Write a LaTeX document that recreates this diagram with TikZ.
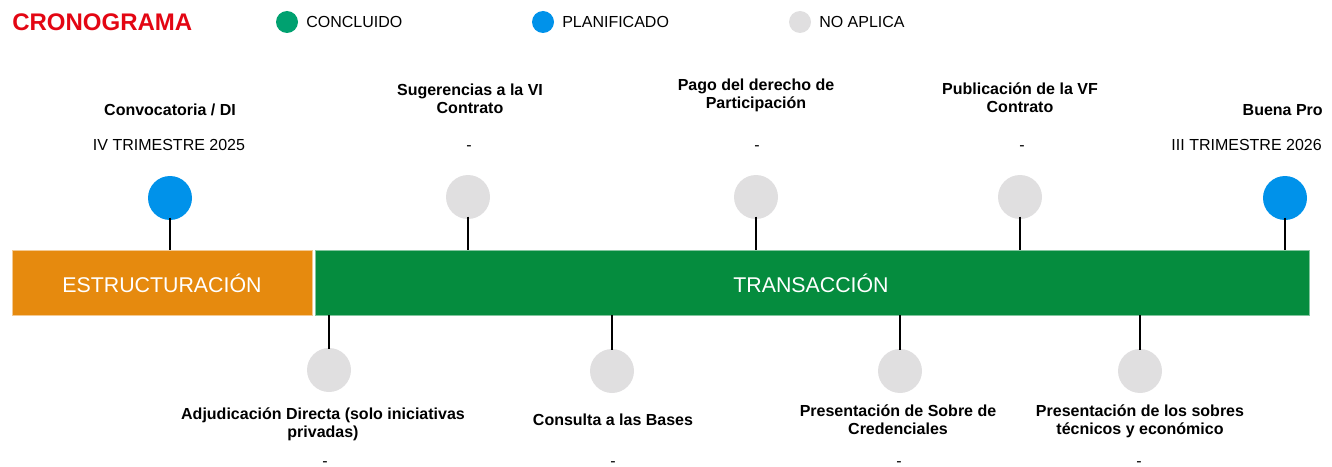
\documentclass[tikz,border=0pt]{standalone}
\usepackage{fontspec}
\setmainfont{Liberation Sans}
\definecolor{cblue}{RGB}{0,146,234}
\definecolor{cgray}{RGB}{224,223,224}
\definecolor{cgreenleg}{RGB}{0,161,112}
\definecolor{cbar}{RGB}{5,140,62}
\definecolor{corange}{RGB}{230,138,14}
\definecolor{cred}{RGB}{227,6,19}
\tikzset{
  dot/.style={circle,inner sep=0pt,minimum size=33pt},
  legdot/.style={circle,inner sep=0pt,minimum size=16.5pt},
  lbl/.style={font=\fontsize{12}{13.5}\selectfont\bfseries,align=center,inner sep=0pt},
  dat/.style={font=\fontsize{12}{13.5}\selectfont,inner sep=0pt},
  botdash/.style={dat,anchor=base},
  legtxt/.style={font=\fontsize{12}{13.5}\selectfont,anchor=west,inner sep=0pt},
  bartxt/.style={font=\fontsize{16}{18}\selectfont,text=white},
  stem/.style={line width=1.6pt,black}
}
\begin{document}
\begin{tikzpicture}[x=0.75pt,y=-0.75pt]
\useasboundingbox (0,0) rectangle (1332,467);
% title and legend
\node[font=\fontsize{18}{20}\selectfont\bfseries,text=cred,anchor=west,inner sep=0pt] (title) at (12,22) {CRONOGRAMA};
\node[legdot,fill=cgreenleg] (lg1) at (287,22) {};
\node[legtxt] (lt1) at (306,22) {CONCLUIDO};
\node[legdot,fill=cblue] (lg2) at (543,22) {};
\node[legtxt] (lt2) at (562,22) {PLANIFICADO};
\node[legdot,fill=cgray] (lg3) at (800,22) {};
\node[legtxt] (lt3) at (819,22) {NO APLICA};
% bars
\path[fill=corange,draw=corange!45,line width=0.6pt] (12,250) rectangle (312,315);
\node[bartxt] (est) at (162,283) {ESTRUCTURACIÓN};
\path[fill=cbar,draw=cbar!50,line width=0.6pt] (315,250) rectangle (1309,315);
\node[bartxt] (tra) at (811,283) {TRANSACCIÓN};
\coordinate (bartop) at (0,250);
\coordinate (barbot) at (0,315);
% top circles
\node[dot,fill=cblue] (t1) at (170,198) {};
\node[dot,fill=cgray] (t2) at (468,197) {};
\node[dot,fill=cgray] (t3) at (756,197) {};
\node[dot,fill=cgray] (t4) at (1020,197) {};
\node[dot,fill=cblue] (t5) at (1285,198) {};
\foreach \n in {t1,t2,t3,t4,t5}{
  \draw[stem] ([yshift=2pt]\n.south) -- (\n |- bartop);
}
% bottom circles
\node[dot,fill=cgray] (b1) at (329,370) {};
\node[dot,fill=cgray] (b2) at (612,371) {};
\node[dot,fill=cgray] (b3) at (900,371) {};
\node[dot,fill=cgray] (b4) at (1140,371) {};
\foreach \n in {b1,b2,b3,b4}{
  \draw[stem] (\n |- barbot) -- ([yshift=-1pt]\n.north);
}
% top labels
\node[lbl] (l1) at (170,110) {Convocatoria / DI};
\node[dat] (d1) at (169,145) {IV TRIMESTRE 2025};
\node[lbl] (l2) at (470,99) {Sugerencias a la VI\\Contrato};
\node[dat] (d2) at (469,148) {-};
\node[lbl] (l3) at (756,95) {Pago del derecho de\\Participación};
\node[dat] (d3) at (757,148) {-};
\node[lbl] (l4) at (1020,98) {Publicación de la VF\\Contrato};
\node[dat] (d4) at (1022,148) {-};
\node[lbl,anchor=east] (l5) at (1323,110) {Buena Pro};
\node[dat,anchor=east] (d5) at (1322,145) {III TRIMESTRE 2026};
% bottom labels
\node[lbl] (m1) at (323,424) {Adjudicación Directa (solo iniciativas\\privadas)};
\node[botdash] (e1) at (325,466) {-};
\node[lbl] (m2) at (613,420) {Consulta a las Bases};
\node[botdash] (e2) at (613,466) {-};
\node[lbl] (m3) at (898,420) {Presentación de Sobre de\\Credenciales};
\node[botdash] (e3) at (899,466) {-};
\node[lbl] (m4) at (1140,421) {Presentación de los sobres\\técnicos y económico};
\node[botdash] (e4) at (1139,466) {-};
\end{tikzpicture}
\end{document}
